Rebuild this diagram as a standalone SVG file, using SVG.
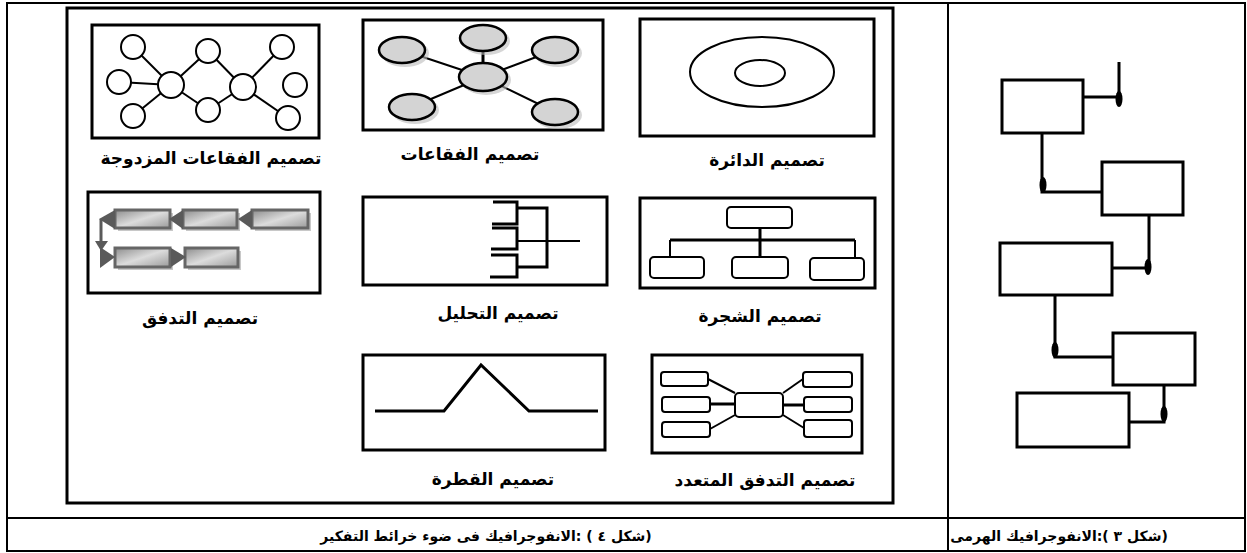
<svg xmlns="http://www.w3.org/2000/svg" width="1247" height="553" viewBox="0 0 1247 553">
<style>
.frame{fill:#fff;stroke:#000;stroke-width:3}
.ln{fill:none;stroke:#000;stroke-width:2}
.thk{fill:none;stroke:#000;stroke-width:3}
.lbl{font-family:"DejaVu Sans",sans-serif;font-weight:bold;font-size:17px;fill:#000;text-anchor:middle;direction:rtl}
.cap{font-family:"DejaVu Sans",sans-serif;font-weight:bold;font-size:14px;fill:#000;text-anchor:middle;direction:rtl}
.bub{fill:#d4d4d4;stroke:#000;stroke-width:2.5}
.bsh{fill:#bbb;opacity:0.6}
.cir{fill:#fff;stroke:#000;stroke-width:2}
.rr{fill:#fff;stroke:#000;stroke-width:2}
.fbox{fill:url(#fg);stroke:#666;stroke-width:3}
.fsh{fill:#c8c8c8}
.ftri{fill:#5a5a5a}
.hbox{fill:#fff;stroke:#000;stroke-width:3}
.dot{fill:#000}
</style>
<defs>
<linearGradient id="fg" x1="0" y1="0" x2="1" y2="1">
<stop offset="0" stop-color="#8c8c8c"/>
<stop offset="0.5" stop-color="#dcdcdc"/>
<stop offset="1" stop-color="#9a9a9a"/>
</linearGradient>
</defs>

<!-- table -->
<g id="table">
<rect x="7" y="3" width="1238" height="548" fill="#fff" stroke="#000" stroke-width="2"/>
<line x1="948" y1="3" x2="948" y2="551" stroke="#000" stroke-width="2"/>
<line x1="7" y1="518" x2="1245" y2="518" stroke="#000" stroke-width="2"/>
<rect x="67" y="8" width="826" height="495" fill="none" stroke="#000" stroke-width="3"/>
</g>

<!-- double bubble -->
<g id="double-bubble">
<rect class="frame" x="92" y="25" width="227" height="113"/>
<g class="ln">
<line x1="171" y1="85" x2="133" y2="47"/>
<line x1="171" y1="85" x2="119" y2="82"/>
<line x1="171" y1="85" x2="133" y2="116"/>
<line x1="171" y1="85" x2="208" y2="51"/>
<line x1="171" y1="85" x2="208" y2="110"/>
<line x1="243" y1="87" x2="208" y2="51"/>
<line x1="243" y1="87" x2="208" y2="110"/>
<line x1="243" y1="87" x2="282" y2="47"/>
<line x1="243" y1="87" x2="288" y2="118"/>
</g>
<circle class="cir" cx="133" cy="47" r="12"/>
<circle class="cir" cx="119" cy="82" r="12"/>
<circle class="cir" cx="133" cy="116" r="12"/>
<circle class="cir" cx="171" cy="85" r="13"/>
<circle class="cir" cx="208" cy="51" r="12"/>
<circle class="cir" cx="208" cy="110" r="12"/>
<circle class="cir" cx="243" cy="87" r="13"/>
<circle class="cir" cx="282" cy="47" r="12"/>
<circle class="cir" cx="295" cy="85" r="12"/>
<circle class="cir" cx="288" cy="118" r="12"/>
<text class="lbl" x="211" y="164"><tspan>تصميم</tspan> <tspan>الفقاعات</tspan> <tspan>المزدوجة</tspan></text>
</g>

<!-- bubbles -->
<g id="bubbles">
<rect class="frame" x="363" y="20" width="240" height="110"/>
<g class="ln">
<line x1="483" y1="77" x2="402" y2="50"/>
<line x1="483" y1="77" x2="483" y2="38" stroke-width="3"/>
<line x1="483" y1="77" x2="555" y2="50"/>
<line x1="483" y1="77" x2="412" y2="107"/>
<line x1="483" y1="77" x2="555" y2="112"/>
</g>
<ellipse class="bsh" cx="486" cy="41" rx="24" ry="14"/>
<ellipse class="bsh" cx="405" cy="53" rx="24" ry="14"/>
<ellipse class="bsh" cx="558" cy="53" rx="24" ry="14"/>
<ellipse class="bsh" cx="486" cy="80" rx="25" ry="15"/>
<ellipse class="bsh" cx="415" cy="110" rx="24" ry="14"/>
<ellipse class="bsh" cx="558" cy="115" rx="24" ry="14"/>
<ellipse class="bub" cx="483" cy="38" rx="23" ry="13"/>
<ellipse class="bub" cx="402" cy="50" rx="23" ry="13"/>
<ellipse class="bub" cx="555" cy="50" rx="23" ry="13"/>
<ellipse class="bub" cx="483" cy="77" rx="24" ry="14"/>
<ellipse class="bub" cx="412" cy="107" rx="23" ry="13"/>
<ellipse class="bub" cx="555" cy="112" rx="23" ry="13"/>
<text class="lbl" x="470" y="160"><tspan>تصميم</tspan> <tspan>الفقاعات</tspan></text>
</g>

<!-- circle -->
<g id="circle">
<rect class="frame" x="640" y="19" width="234" height="117"/>
<ellipse class="ln" cx="762" cy="72" rx="72" ry="35"/>
<ellipse class="ln" cx="760" cy="73" rx="25" ry="13"/>
<text class="lbl" x="767" y="166"><tspan>تصميم</tspan> <tspan>الدائرة</tspan></text>
</g>

<!-- flow -->
<g id="flow">
<rect class="frame" x="88" y="192" width="232" height="101"/>
<rect class="fsh" x="118" y="213" width="55" height="18"/>
<rect class="fsh" x="186" y="213" width="54" height="18"/>
<rect class="fsh" x="255" y="213" width="56" height="18"/>
<rect class="fsh" x="118" y="251" width="55" height="19"/>
<rect class="fsh" x="188" y="251" width="53" height="19"/>
<rect class="fbox" x="115" y="210" width="55" height="18"/>
<rect class="fbox" x="183" y="210" width="54" height="18"/>
<rect class="fbox" x="252" y="210" width="56" height="18"/>
<rect class="fbox" x="115" y="248" width="55" height="19"/>
<rect class="fbox" x="185" y="248" width="53" height="19"/>
<polygon class="ftri" points="99,219 115,210 115,229"/>
<polygon class="ftri" points="169,219 183,210 183,229"/>
<polygon class="ftri" points="238,219 252,210 252,229"/>
<polygon class="ftri" points="186,257 171,248 171,267"/>
<line x1="101" y1="219" x2="101" y2="244" stroke="#5a5a5a" stroke-width="3"/>
<polygon class="ftri" points="95,241 108,241 101,251"/>
<polygon class="ftri" points="115,257 100,247 100,268"/>
<text class="lbl" x="200" y="324"><tspan>تصميم</tspan> <tspan>التدفق</tspan></text>
</g>

<!-- analysis -->
<g id="analysis">
<rect class="frame" x="363" y="197" width="244" height="88"/>
<path class="thk" d="M493,202 H517 V224 H492"/>
<path class="thk" d="M492,228 H517 V249 H491"/>
<path class="thk" d="M491,255 H517 V277 H490"/>
<path class="thk" d="M518,208 H547 V267 H518"/>
<line class="ln" x1="518" y1="241" x2="580" y2="241"/>
<text class="lbl" x="498" y="319"><tspan>تصميم</tspan> <tspan>التحليل</tspan></text>
</g>

<!-- tree -->
<g id="tree">
<rect class="frame" x="640" y="198" width="235" height="90"/>
<rect class="rr" x="727" y="207" width="65" height="21" rx="4"/>
<line class="thk" x1="670" y1="240" x2="855" y2="240"/>
<line class="thk" x1="760" y1="228" x2="760" y2="257"/>
<line class="ln" x1="670" y1="240" x2="670" y2="257"/>
<line class="ln" x1="855" y1="240" x2="855" y2="258"/>
<rect class="rr" x="650" y="257" width="54" height="21" rx="4"/>
<rect class="rr" x="732" y="257" width="56" height="21" rx="4"/>
<rect class="rr" x="810" y="258" width="54" height="22" rx="4"/>
<text class="lbl" x="760" y="322"><tspan>تصميم</tspan> <tspan>الشجرة</tspan></text>
</g>

<!-- bridge -->
<g id="bridge">
<rect class="frame" x="363" y="355" width="242" height="95"/>
<polyline class="thk" points="375,411 444,411 481,365 529,411 598,411"/>
<text class="lbl" x="493" y="485"><tspan>تصميم</tspan> <tspan>القطرة</tspan></text>
</g>

<!-- multi-flow -->
<g id="multi-flow">
<rect class="frame" x="652" y="355" width="210" height="98"/>
<g class="ln">
<line x1="708" y1="379" x2="735" y2="393"/>
<line x1="710" y1="404" x2="735" y2="404" stroke-width="3"/>
<line x1="710" y1="429" x2="735" y2="415"/>
<line x1="783" y1="393" x2="803" y2="379"/>
<line x1="783" y1="405" x2="804" y2="405" stroke-width="3"/>
<line x1="783" y1="415" x2="804" y2="428"/>
</g>
<rect class="rr" x="735" y="393" width="48" height="24" rx="4"/>
<rect class="rr" x="661" y="372" width="47" height="14" rx="3"/>
<rect class="rr" x="662" y="397" width="48" height="15" rx="3"/>
<rect class="rr" x="662" y="422" width="48" height="15" rx="3"/>
<rect class="rr" x="803" y="372" width="49" height="15" rx="3"/>
<rect class="rr" x="804" y="397" width="48" height="15" rx="3"/>
<rect class="rr" x="804" y="420" width="48" height="17" rx="3"/>
<text class="lbl" x="765" y="486"><tspan>تصميم</tspan> <tspan>التدفق</tspan> <tspan>المتعدد</tspan></text>
</g>

<!-- hierarchical -->
<g id="connectors">
<path class="thk" d="M1083,97 H1119 M1119,62 V97"/>
<path class="thk" d="M1042,133 V192 H1102"/>
<path class="thk" d="M1149,215 V268 H1112"/>
<path class="thk" d="M1055,295 V357 H1113"/>
<path class="thk" d="M1164,385 V422 H1129"/>
<ellipse class="dot" cx="1119" cy="99" rx="3.5" ry="8"/>
<ellipse class="dot" cx="1043" cy="185" rx="3.5" ry="8"/>
<ellipse class="dot" cx="1148" cy="267" rx="3.5" ry="8"/>
<ellipse class="dot" cx="1055" cy="350" rx="3.5" ry="8"/>
<ellipse class="dot" cx="1164" cy="414" rx="3.5" ry="8"/>
</g>
<g id="box-a"><rect class="hbox" x="1002" y="80" width="81" height="53"/></g>
<g id="box-b"><rect class="hbox" x="1102" y="162" width="81" height="53"/></g>
<g id="box-c"><rect class="hbox" x="1000" y="243" width="112" height="52"/></g>
<g id="box-d"><rect class="hbox" x="1113" y="333" width="82" height="52"/></g>
<g id="box-e"><rect class="hbox" x="1017" y="393" width="112" height="54"/></g>

<!-- captions -->
<g id="captions">
<text class="cap" x="486" y="541"><tspan>(شكل</tspan> <tspan>٤</tspan> <tspan>)</tspan> <tspan>:الانفوجرافيك</tspan> <tspan>فى</tspan> <tspan>ضوء</tspan> <tspan>خرائط</tspan> <tspan>التفكير</tspan></text>
<text class="cap" x="1059" y="541"><tspan>(شكل</tspan> <tspan>٣</tspan> <tspan>):الانفوجرافيك</tspan> <tspan>الهرمى</tspan></text>
</g>
</svg>
